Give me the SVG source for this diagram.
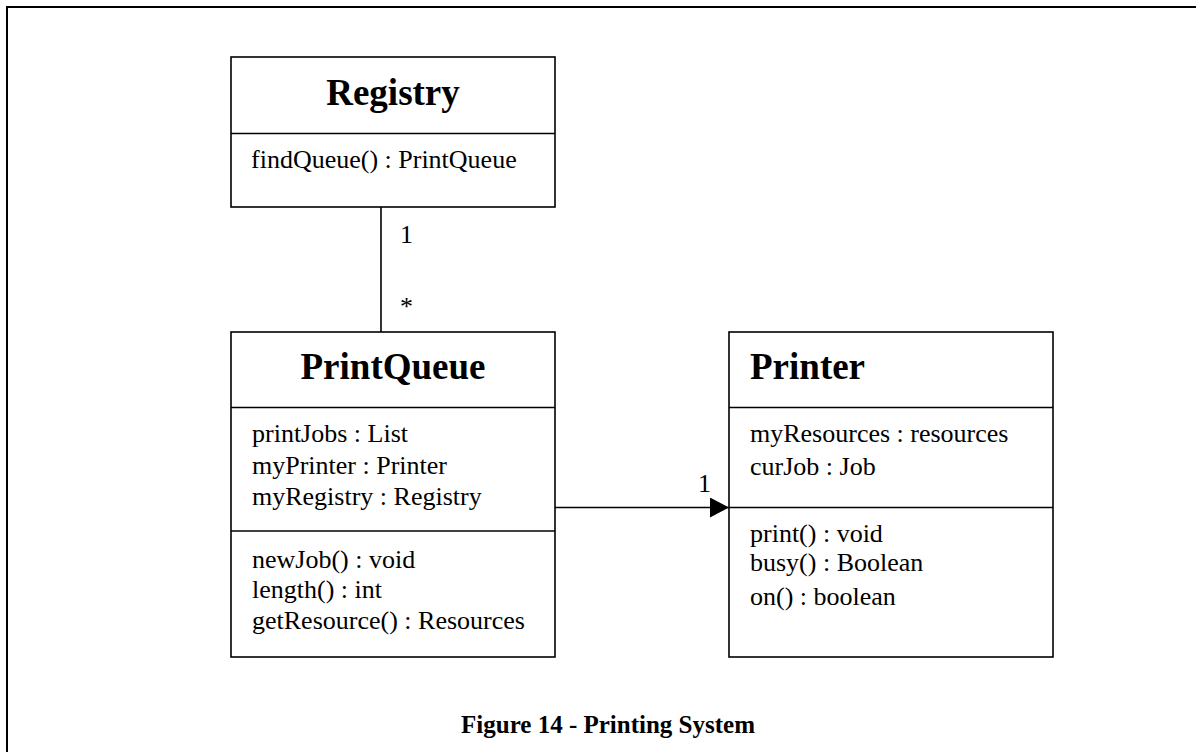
<svg xmlns="http://www.w3.org/2000/svg" width="1196" height="752" viewBox="0 0 1196 752">
<style>
.box{fill:#fff;stroke:#000;stroke-width:1.6}
.div{stroke:#000;stroke-width:1.6}
.title{font-family:"Liberation Serif",serif;font-weight:bold;font-size:37px;fill:#000}
.txt{font-family:"Liberation Serif",serif;font-size:26px;fill:#000}
.conn{stroke:#000;stroke-width:1.6;fill:none}
.cap{font-family:"Liberation Serif",serif;font-weight:bold;font-size:25px;fill:#000}
</style>
<defs>
<marker id="arrow" markerWidth="19" markerHeight="20" refX="19" refY="10" orient="auto" markerUnits="userSpaceOnUse">
<path d="M0,0 L19,10 L0,20 Z" fill="#000"/>
</marker>
</defs>
<rect width="1196" height="752" fill="#fff"/>
<path d="M7,752 L7,7 L1196,7" fill="none" stroke="#000" stroke-width="2"/>
<g id="connectors">
<line class="conn" x1="381" y1="207" x2="381" y2="332"/>
<line class="conn" x1="555" y1="507.5" x2="729" y2="507.5" marker-end="url(#arrow)"/>
<text class="txt" x="400" y="243">1</text>
<text class="txt" x="400" y="315">*</text>
<text class="txt" x="698" y="492">1</text>
</g>
<g id="registry">
<rect class="box" x="231" y="57" width="324" height="150"/>
<line class="div" x1="231" y1="133.5" x2="555" y2="133.5"/>
<text class="title" x="393" y="105" text-anchor="middle">Registry</text>
<text class="txt" x="251" y="168">findQueue() : PrintQueue</text>
</g>
<g id="printqueue">
<rect class="box" x="231" y="332" width="324" height="325"/>
<line class="div" x1="231" y1="407.5" x2="555" y2="407.5"/>
<line class="div" x1="231" y1="531" x2="555" y2="531"/>
<text class="title" x="393" y="379" text-anchor="middle">PrintQueue</text>
<text class="txt" x="252" y="442">printJobs : List</text>
<text class="txt" x="252" y="474">myPrinter : Printer</text>
<text class="txt" x="252" y="505">myRegistry : Registry</text>
<text class="txt" x="252" y="568">newJob() : void</text>
<text class="txt" x="252" y="598">length() : int</text>
<text class="txt" x="252" y="629">getResource() : Resources</text>
</g>
<g id="printer">
<rect class="box" x="729" y="332" width="324" height="325"/>
<line class="div" x1="729" y1="407.5" x2="1053" y2="407.5"/>
<line class="div" x1="729" y1="507.5" x2="1053" y2="507.5"/>
<text class="title" x="750" y="379">Printer</text>
<text class="txt" x="750" y="442">myResources : resources</text>
<text class="txt" x="750" y="475">curJob : Job</text>
<text class="txt" x="750" y="542">print() : void</text>
<text class="txt" x="750" y="571">busy() : Boolean</text>
<text class="txt" x="750" y="605">on() : boolean</text>
</g>
<text class="cap" x="608" y="733" text-anchor="middle">Figure 14 - Printing System</text>
</svg>
